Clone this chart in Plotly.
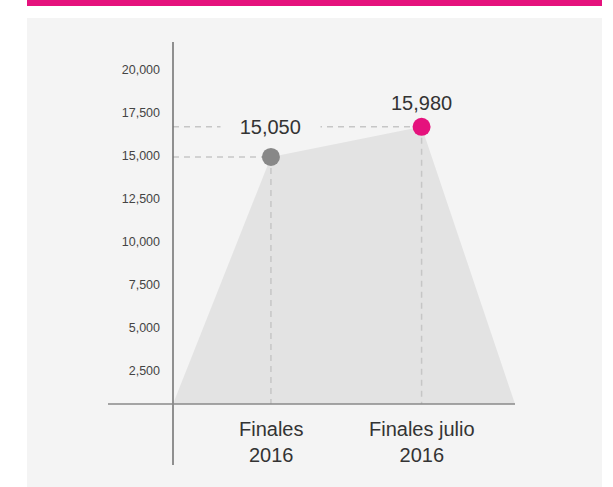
import plotly.graph_objects as go

# ---- data ----
categories = ["Finales<br>2016", "Finales julio<br>2016"]
value_labels = ["15,050", "15,980"]
values = [14940, 16690]          # plotted heights
point_colors = ["#888888", "#e5127d"]
y_ticks = [2500, 5000, 7500, 10000, 12500, 15000, 17500, 20000]
area_edges = [-0.65, 1.62]       # where the shaded area meets the x axis
y_range = [562, 21513]

# ---- layout geometry (pixels) ----
W, H = 613, 487
L, R, T, B = 173, 98, 44, 83
pw, ph = W - L - R, H - T - B


def px(xp):
    return (xp - L) / pw


def py(yp):
    return (H - B - yp) / ph


PANEL = "#f4f4f4"
FONT = "Liberation Sans, Arial, sans-serif"
xs = [0, 1]
base = y_range[0]
PAD = "&nbsp;" * 3

fig = go.Figure()

# shaded area
fig.add_trace(go.Scatter(
    x=[area_edges[0]] + xs + [area_edges[1]],
    y=[base] + values + [base],
    fill="toself", fillcolor="#e3e3e3", mode="none",
    hoverinfo="skip", showlegend=False))

# dashed guide lines
for xi, v in zip(xs, values):
    fig.add_trace(go.Scatter(
        x=[area_edges[0], xi], y=[v, v], mode="lines",
        line=dict(color="#c6c6c6", width=1.5, dash="6px,5px"),
        hoverinfo="skip", showlegend=False))
    fig.add_trace(go.Scatter(
        x=[xi, xi], y=[v, base], mode="lines",
        line=dict(color="#c6c6c6", width=1.5, dash="6px,5px"),
        hoverinfo="skip", showlegend=False))

# points
fig.add_trace(go.Scatter(
    x=xs, y=values, mode="markers",
    marker=dict(size=18, color=point_colors),
    hoverinfo="skip", showlegend=False))

# value labels
fig.add_annotation(x=xs[0], y=values[1], text=PAD + value_labels[0] + PAD, showarrow=False,
                   font=dict(family=FONT, size=20, color="#333333"),
                   bgcolor=PANEL, xanchor="center", yanchor="middle", borderpad=2)
fig.add_annotation(x=xs[1], y=values[1], text=value_labels[1], showarrow=False,
                   font=dict(family=FONT, size=20, color="#333333"),
                   xanchor="center", yanchor="middle", yshift=24)

# category labels
for xi, c in zip(xs, categories):
    fig.add_annotation(x=xi, y=0, yref="y domain", text=c, showarrow=False,
                       font=dict(family=FONT, size=20, color="#333333"),
                       xanchor="center", yanchor="top", yshift=-12)

shapes = [
    # panel background
    dict(type="rect", xref="paper", yref="paper", x0=px(27), x1=px(602),
         y0=py(487), y1=py(18), fillcolor=PANEL, line=dict(width=0), layer="below"),
    # magenta top bar
    dict(type="rect", xref="paper", yref="paper", x0=px(27), x1=px(602),
         y0=py(6), y1=py(0), fillcolor="#e5127d", line=dict(width=0), layer="below"),
    # y axis line
    dict(type="line", xref="paper", yref="paper", x0=0, x1=0,
         y0=py(465), y1=py(42), line=dict(color="#6e6e6e", width=1.5)),
    # x axis line
    dict(type="line", xref="paper", yref="paper", x0=px(108), x1=1,
         y0=0, y1=0, line=dict(color="#8a8a8a", width=1.5)),
]

fig.update_layout(
    width=W, height=H,
    margin=dict(l=L, r=R, t=T, b=B),
    paper_bgcolor="white", plot_bgcolor="rgba(0,0,0,0)",
    shapes=shapes,
    showlegend=False,
    font=dict(family=FONT),
    xaxis=dict(range=area_edges, showgrid=False, zeroline=False,
               showticklabels=False, showline=False, fixedrange=True),
    yaxis=dict(range=y_range, showgrid=False, zeroline=False, showline=False,
               tickvals=y_ticks, tickformat=",", ticks="",
               tickfont=dict(family=FONT, size=12.5, color="#444444"),
               ticklabelstandoff=12, fixedrange=True),
)

fig.write_html("out.html", config={"displayModeBar": False},
               post_script="document.body.style.margin='0';document.body.style.padding='0';")
